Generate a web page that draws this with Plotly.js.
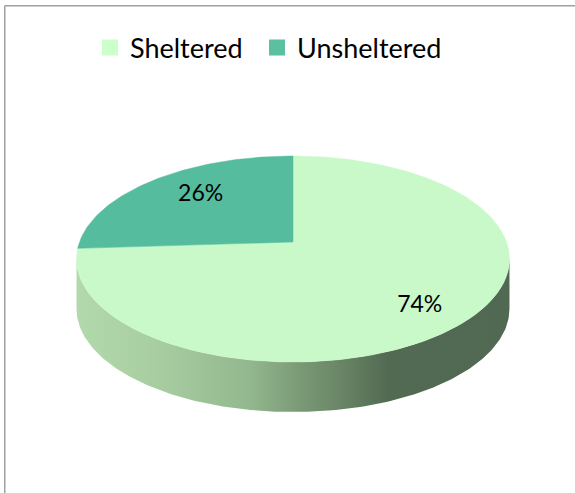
<!DOCTYPE html>
<html><head><meta charset="utf-8">
<script src="https://cdn.plot.ly/plotly-3.0.1.min.js"></script>
<style>html,body{margin:0;padding:0;background:#fff;} #chart{width:575px;height:493px;}</style>
</head><body><div id="chart"></div>
<script>
// ---- data ----
const categories = ['Sheltered', 'Unsheltered'];
const values = [74, 26];
const sliceColors = ['#C9F9C9', '#55BC9E'];
const legendColors = ['#CCFFCC', '#5BC0A0'];
const labelRadius = [0.79, 0.69];

// ---- 3D perspective projection of the pie (pixel space) ----
const CX = 293, CY = 242, A = 213.5, B = 100.2, K = 0.165, DEPTH = 50;
const LABEL_ANGLE_SHIFT = -4 * Math.PI / 180;
function proj(theta, r, dz) {
  const u = r * Math.cos(theta), v = r * Math.sin(theta);
  const d = 1 + K * v;
  return [CX + A * u / d, CY - B * v / d + (dz || 0)];
}

const total = values.reduce((a, b) => a + b, 0);
const traces = [];
const tops = [];
const labels = {x: [], y: [], text: []};
const frontL = -Math.PI + Math.asin(K), frontR = -Math.asin(K); // visible front arc
let start = Math.PI / 2;
values.forEach((val, i) => {
  const sweep = val / total * 2 * Math.PI;
  const a1 = start, a0 = start - sweep;
  // top face
  const xs = [CX], ys = [CY];
  const n = Math.max(4, Math.ceil(val / total * 360));
  for (let j = 0; j <= n; j++) {
    const p = proj(a1 - sweep * j / n, 1);
    xs.push(p[0]); ys.push(p[1]);
  }
  xs.push(CX); ys.push(CY);
  tops.push({type: 'scatter', x: xs, y: ys, mode: 'lines', fill: 'toself',
    fillcolor: sliceColors[i], line: {width: 0.5, color: sliceColors[i]},
    hoverinfo: 'skip', showlegend: false});
  // side wall (intersection of slice with visible front arc)
  for (const sh of [-2 * Math.PI, 0, 2 * Math.PI]) {
    const lo = Math.max(a0, frontL + sh), hi = Math.min(a1, frontR + sh);
    if (hi > lo) {
      const sx = [], sy = [], m = 200;
      for (let j = 0; j <= m; j++) { const p = proj(lo + (hi - lo) * j / m, 1); sx.push(p[0]); sy.push(p[1]); }
      for (let j = m; j >= 0; j--) { const p = proj(lo + (hi - lo) * j / m, 1, DEPTH); sx.push(p[0]); sy.push(p[1]); }
      sx.push(sx[0]); sy.push(sy[0]);
      traces.push({type: 'scatter', x: sx, y: sy, mode: 'lines', fill: 'toself',
        fillgradient: {type: 'horizontal', colorscale: i === 0 ?
          [[0, '#B2D9AC'], [0.2, '#A6CCA0'], [0.4, '#93B78E'], [0.515, '#7A9A76'], [0.607, '#6A8666'],
           [0.677, '#5A7559'], [0.72, '#526A52'], [1, '#516952']] :
          [[0, '#3E8A74'], [1, '#2A5E4F']]},
        line: {width: 0}, hoverinfo: 'skip', showlegend: false});
    }
  }
  // label
  const p = proj(a1 - sweep / 2 + LABEL_ANGLE_SHIFT, labelRadius[i]);
  labels.x.push(p[0]); labels.y.push(p[1]);
  labels.text.push(Math.round(val / total * 100) + '%');
  start = a0;
});
tops.forEach(t => traces.push(t));
traces.push({type: 'scatter', x: labels.x, y: labels.y, text: labels.text, mode: 'text',
  textposition: 'middle center', textfont: {family: 'Lato, "Liberation Sans", sans-serif', size: 23, color: '#000'},
  hoverinfo: 'skip', showlegend: false});
const legendIds = ['legend', 'legend2'];
categories.forEach((c, i) => traces.push({type: 'scatter', x: [null], y: [null], mode: 'markers',
  name: c, legend: legendIds[i], marker: {symbol: 'square', size: 16, color: legendColors[i]}, hoverinfo: 'skip'}));

const legendBase = {orientation: 'h', xanchor: 'left', y: 1 - 48 / 493, yanchor: 'middle',
  font: {family: 'Lato, "Liberation Sans", sans-serif', size: 27, color: '#000'},
  bgcolor: 'rgba(0,0,0,0)'};
const layout = {
  width: 575, height: 493, margin: {l: 0, r: 0, t: 0, b: 0},
  paper_bgcolor: '#fff', plot_bgcolor: '#fff',
  xaxis: {range: [0, 575], visible: false, fixedrange: true},
  yaxis: {range: [493, 0], visible: false, fixedrange: true},
  showlegend: true,
  legend: Object.assign({}, legendBase, {x: 90 / 575}),
  legend2: Object.assign({}, legendBase, {x: 257 / 575}),
  shapes: [
    {type: 'line', xref: 'x', yref: 'y', x0: 4.75, x1: 575, y0: 5.75, y1: 5.75, line: {color: '#A0A0A0', width: 1.5}},
    {type: 'line', xref: 'x', yref: 'y', x0: 4.75, x1: 4.75, y0: 5.75, y1: 493, line: {color: '#A0A0A0', width: 1.5}}
  ]
};
Plotly.newPlot('chart', traces, layout, {displayModeBar: false, staticPlot: true});
</script></body></html>
